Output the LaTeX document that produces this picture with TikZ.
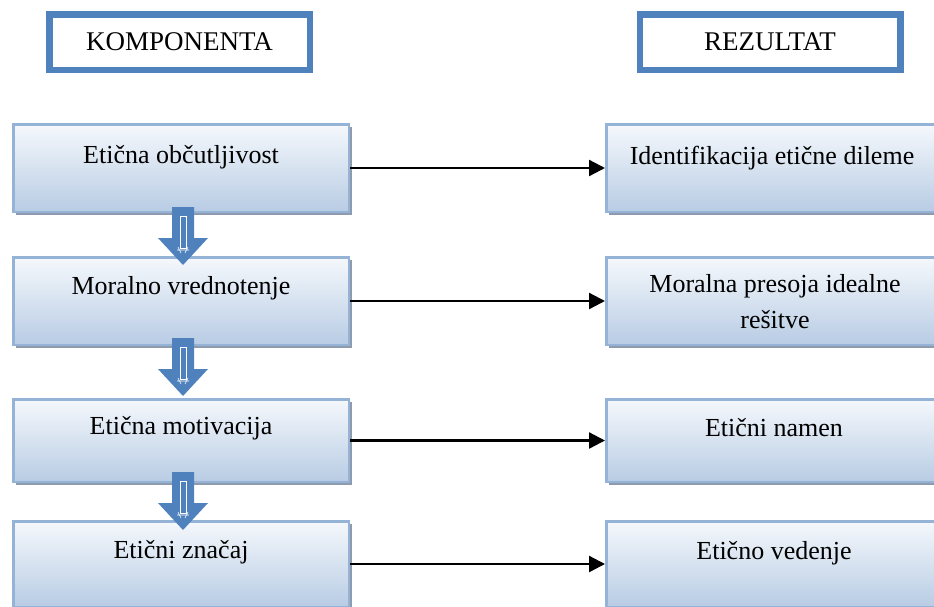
\documentclass[tikz,border=0pt]{standalone}
\usepackage{fontspec}
\setmainfont{Liberation Serif}
\usetikzlibrary{arrows.meta,calc,shadows}

\definecolor{hdrblue}{HTML}{4F81BD}
\definecolor{boxedge}{HTML}{95B3D7}
\definecolor{boxtop}{HTML}{F5F8FC}
\definecolor{boxbot}{HTML}{B8CCE4}
\definecolor{boxshadow}{HTML}{8E9BAE}

% Broad blue arrow pointing down, hung from a top-centre coordinate
\newcommand\flowdown[1]{%
  \fill[hdrblue] (#1) ++(-11,0) -- ++(22,0) -- ++(0,31) -- ++(14,0)
    -- ++(-25,27) -- ++(-25,-27) -- ++(14,0) -- cycle;
  \draw[white, line width=0.7pt] ($(#1)+(-3,9)$) rectangle ($(#1)+(3,41)$);
  \draw[white, line width=0.6pt] ($(#1)+(-6,43)$) -- ($(#1)+(6,43)$)
    ($(#1)+(-5,40)$) -- ($(#1)+(-2,46)$) ($(#1)+(5,40)$) -- ($(#1)+(2,46)$);
}

\begin{document}
\begin{tikzpicture}[x=1pt, y=-1pt,
  every node/.style={font=\fontsize{26}{36}\selectfont},
  header/.style={draw=hdrblue, line width=6.5pt, fill=white,
    minimum width=260.5pt, minimum height=55.5pt, inner sep=0pt,
    font=\fontsize{27}{32}\selectfont},
  stage/.style={draw=boxedge, line width=2.5pt, top color=boxtop,
    bottom color=boxbot, minimum width=335.5pt, inner sep=0pt,
    drop shadow={shadow xshift=3pt, shadow yshift=-3pt,
      fill=boxshadow, opacity=1}},
  caption/.style={anchor=base, align=center, inner sep=0pt},
  link/.style={line width=2.3pt, -{Triangle[length=16pt, width=16pt]}},
]
\useasboundingbox (0,0) rectangle (934,606);

% column headings
\node[header] (hcomp) at (179.5,42) {KOMPONENTA};
\node[header] (hres)  at (770,42)   {REZULTAT};

% components (left column)
\node[stage, minimum height=87.5pt] (l1) at (181,168)   {};
\node[stage, minimum height=87.5pt] (l2) at (181,301)   {};
\node[stage, minimum height=82.5pt] (l3) at (181,440.5) {};
\node[stage, minimum height=85.5pt] (l4) at (181,564)   {};

% results (right column)
\node[stage, minimum height=87.5pt] (r1) at (774,168)   {};
\node[stage, minimum height=87.5pt] (r2) at (774,301)   {};
\node[stage, minimum height=82.5pt] (r3) at (774,440.5) {};
\node[stage, minimum height=85.5pt] (r4) at (774,564)   {};

% texts (base anchor sits on the last line)
\node[caption] (l1t) at ($(l1.north)+(0,40)$) {Etična občutljivost};
\node[caption] (l2t) at ($(l2.north)+(0,38)$) {Moralno vrednotenje};
\node[caption] (l3t) at ($(l3.north)+(0,36)$) {Etična motivacija};
\node[caption] (l4t) at ($(l4.north)+(0,38)$) {Etični značaj};

\node[caption] (r1t) at ($(r1.north)+(-2,41)$) {Identifikacija etične dileme};
\node[caption] (r2t) at ($(r2.north)+(1,72)$) {Moralna presoja idealne\\rešitve};
\node[caption] (r3t) at ($(r3.north)+(0,38)$) {Etični namen};
\node[caption] (r4t) at ($(r4.north)+(0,39)$) {Etično vedenje};

% component -> result
\draw[link] (l1.east) -- (r1.west);
\draw[link] (l2.east) -- (r2.west);
\draw[link] (l3.east) -- (r3.west);
\draw[link] (l4.east) -- (r4.west);

% component -> next component
\coordinate (f1) at ($(l1.south)+(2,-6)$);
\coordinate (f2) at ($(l2.south)+(2,-8)$);
\coordinate (f3) at ($(l3.south)+(2,-11)$);
\flowdown{f1}
\flowdown{f2}
\flowdown{f3}
\end{tikzpicture}
\end{document}
